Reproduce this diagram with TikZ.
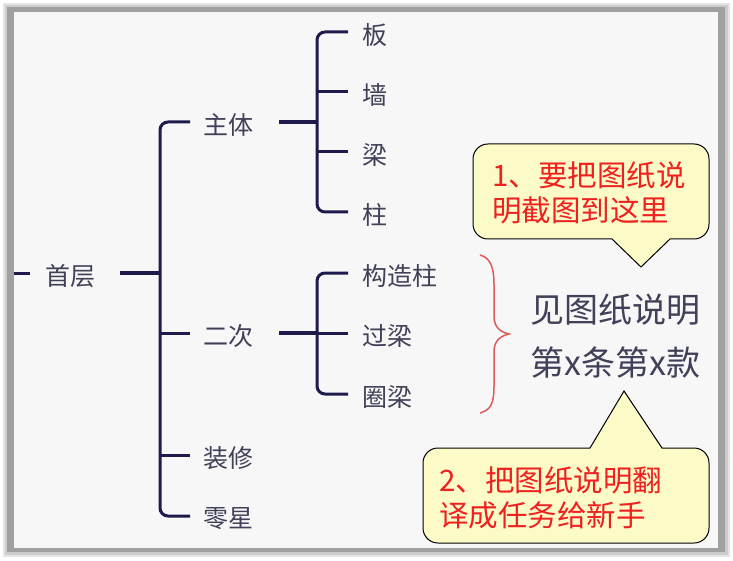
\documentclass[tikz,border=0pt]{standalone}
\usepackage{fontspec}
\setmainfont{Noto Sans CJK SC}
\definecolor{treeC}{HTML}{1E1A4C}
\definecolor{txtC}{HTML}{404058}
\definecolor{redC}{HTML}{EE2020}
\definecolor{noteC}{HTML}{FCFAC6}
\definecolor{braceC}{HTML}{DD5A5A}
\definecolor{frameC}{HTML}{A0A0A0}
\definecolor{bgC}{HTML}{F7F7F7}
\begin{document}
\begin{tikzpicture}[x=1pt,y=-1pt,
  treeline/.style={draw=treeC, line width=3pt},
  thickline/.style={draw=treeC, line width=4.5pt},
  lbl/.style={anchor=west, inner sep=0pt, text=txtC, font=\fontsize{25}{30}\selectfont},
  callout/.style={draw=black, line width=1pt, fill=noteC},
  notetxt/.style={anchor=west, inner sep=0pt, text=redC, align=left, font=\fontsize{29.5}{35}\selectfont},
  bigtxt/.style={anchor=west, inner sep=0pt, text=txtC, align=left, font=\fontsize{34}{53}\selectfont},
]
\useasboundingbox (0,0) rectangle (733,561);
% frame with shadow
\fill[white] (0,0) rectangle (733,561);
\fill[black!10] (3,3) rectangle (730,557);
\fill[black!20] (5,5) rectangle (728,555);
\fill[frameC] (7,7) rectangle (725,552);
\fill[bgC] (14,12) rectangle (718,548);

% labels
\node[lbl] (n0) at (45,276) {首层};
\node[lbl] (n1) at (203,125) {主体};
\node[lbl] (n2) at (203,336) {二次};
\node[lbl] (n3) at (203,458) {装修};
\node[lbl] (n4) at (203,519) {零星};
\node[lbl] (n11) at (362,35) {板};
\node[lbl] (n12) at (362,95) {墙};
\node[lbl] (n13) at (362,155) {梁};
\node[lbl] (n14) at (362,215) {柱};
\node[lbl] (n21) at (362,276) {构造柱};
\node[lbl] (n22) at (362,336) {过梁};
\node[lbl] (n23) at (362,397) {圈梁};

% coordinates for the tree
\coordinate (s0) at (14,273);
\coordinate (s1) at (30,273);
\coordinate (p0) at (120,273);
\coordinate (q0) at (160,273);
\coordinate (a1) at (190,122);
\coordinate (a2) at (190,333);
\coordinate (a3) at (190,455);
\coordinate (a4) at (190,516);
\coordinate (p1) at (279,122);
\coordinate (q1) at (317,122);
\coordinate (p2) at (279,333);
\coordinate (q2) at (317,333);
\coordinate (b11) at (348,32);
\coordinate (b12) at (348,92);
\coordinate (b13) at (348,152);
\coordinate (b14) at (348,212);
\coordinate (b21) at (348,273);
\coordinate (b22) at (348,333);
\coordinate (b23) at (348,394);

\draw[treeline] (s0) -- (s1);
\draw[thickline] (p0) -- (q0);
\draw[treeline, rounded corners=8pt] (a1) -- (160,122) -- (160,516) -- (a4);
\draw[treeline] (160,333) -- (a2);
\draw[treeline] (160,455) -- (a3);

\draw[thickline] (p1) -- (q1);
\draw[treeline, rounded corners=8pt] (b11) -- (317,32) -- (317,212) -- (b14);
\draw[treeline] (317,92) -- (b12);
\draw[treeline] (317,152) -- (b13);

\draw[thickline] (p2) -- (q2);
\draw[treeline, rounded corners=8pt] (b21) -- (317,273) -- (317,394) -- (b23);
\draw[treeline] (q2) -- (b22);

% brace
\draw[braceC, line width=1.5pt] (480,255) .. controls (491,258) and (494,268) .. (494,285)
  -- (494,316) .. controls (494,327) and (500,332) .. (509,334)
  .. controls (500,336) and (494,341) .. (494,352)
  -- (494,386) .. controls (494,403) and (491,410) .. (480,413);

\node[bigtxt] (big) at (530,336) {见图纸说明\\第x条第x款};

% callout 1
\coordinate (c1tip) at (641,267);
\draw[callout] (612,239) -- (c1tip) -- (670,239) [rounded corners=15pt] -- (709,239) -- (709,144) -- (473,144) -- (473,239) [sharp corners] -- cycle;
\node[notetxt] (t1) at (492,192.5) {1、要把图纸说\\明截图到这里};

% callout 2
\coordinate (c2tip) at (624,391);
\draw[callout] (662,448) -- (c2tip) -- (590,448) [rounded corners=15pt] -- (423,448) -- (423,543) -- (709,543) -- (709,448) [sharp corners] -- cycle;
\node[notetxt] (t2) at (439,497.5) {2、把图纸说明翻\\译成任务给新手};
\end{tikzpicture}
\end{document}
